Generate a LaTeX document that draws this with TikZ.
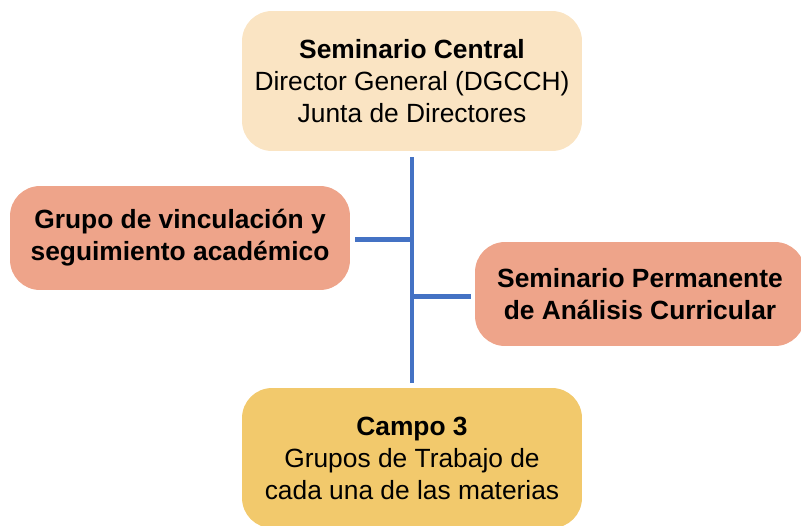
\documentclass[tikz,border=0pt]{standalone}
\usepackage{fontspec}
\setmainfont{Liberation Sans}
\definecolor{cremita}{HTML}{FAE4C3}
\definecolor{salmon}{HTML}{EEA48A}
\definecolor{oro}{HTML}{F2C96C}
\definecolor{azul}{HTML}{4472C4}
\begin{document}
\begin{tikzpicture}[x=0.02cm,y=-0.02cm,
	caja/.style={rounded corners=0.6cm,align=center,inner sep=0pt,
		font=\fontsize{15}{18.2}\selectfont},
	enlace/.style={draw=azul,line width=2.8pt}]
				\useasboundingbox (0,0) rectangle (801,525);
				\node (central) [caja,fill=cremita,minimum width=6.8cm,minimum height=2.8cm] at (412,81)
					{\textbf{Seminario Central}\\Director General (DGCCH)\\Junta de Directores};
				\node (grupo) [caja,fill=salmon,minimum width=6.8cm,minimum height=2.08cm] at (180,238)
					{\textbf{Grupo de vinculación y}\\\textbf{seguimiento académico}};
				\node (seminario) [caja,fill=salmon,minimum width=6.6cm,minimum height=2.08cm] at (640,294)
					{\textbf{Seminario Permanente}\\\textbf{de Análisis Curricular}};
				\node (campo) [caja,fill=oro,minimum width=6.8cm,minimum height=2.8cm] at (412,458)
					{\textbf{Campo 3}\\Grupos de Trabajo de\\cada una de las materias};

				\draw [enlace,shorten <=3.4pt,shorten >=2.8pt](central) -- (campo);
				\draw [enlace,shorten <=2.8pt]([yshift=-1pt]grupo.east) -- ([yshift=-1pt]grupo.east -| central.south);
				\draw [enlace,shorten >=2.3pt]([yshift=-1.5pt]seminario.west -| central.south) -- ([yshift=-1.5pt]seminario.west);
			\end{tikzpicture}
\end{document}
